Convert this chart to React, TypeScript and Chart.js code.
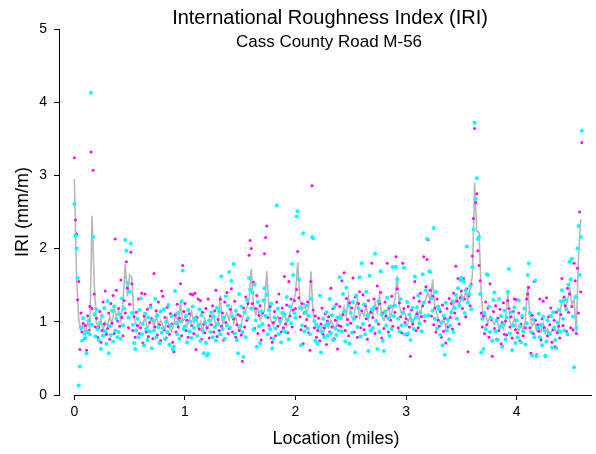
import React, { useEffect, useRef } from "react";
import { Chart, registerables } from "chart.js";

Chart.register(...registerables);

// ---- Data -------------------------------------------------------------
const TITLE = "International Roughness Index (IRI)";
const SUBTITLE = "Cass County Road M-56";
const X_LABEL = "Location (miles)";
const Y_LABEL = "IRI (mm/m)";
const X_TICKS = [0, 1, 2, 3, 4];
const Y_TICKS = [0, 1, 2, 3, 4, 5];

// sampling interval of the profile readings (miles)
const SAMPLE_STEP = 0.01;
const AVG_STEP = 0.02;

// magenta wheel-path IRI (mm/m), one reading per SAMPLE_STEP from 0 mi
const IRI_MAGENTA = [
  3.24, 2.39, 2.20, 1.30, 1.55, 0.62, 1.12, 0.86, 0.98, 0.77,
  0.95, 0.61, 1.08, 0.88, 1.21, 3.32, 1.18, 3.07, 1.38, 0.93,
  1.05, 0.79, 0.92, 1.14, 0.72, 0.88, 1.27, 0.97, 1.42, 0.83,
  0.91, 1.12, 0.76, 1.25, 0.98, 1.36, 0.84, 2.13, 1.43, 1.01,
  1.18, 0.94, 1.57, 1.06, 0.81, 1.29, 1.12, 1.82, 1.46, 0.92,
  1.24, 1.95, 1.52, 0.88, 1.07, 0.79, 1.13, 0.95, 1.31, 0.84,
  0.92, 1.39, 0.71, 1.08, 1.38, 0.86, 1.17, 0.80, 0.99, 1.23,
  1.04, 0.77, 1.66, 0.93, 1.15, 0.82, 1.27, 0.96, 0.74, 1.42,
  1.35, 0.89, 1.06, 0.78, 1.20, 0.94, 0.83, 1.11, 0.97, 0.72,
  0.59, 1.09, 0.86, 1.24, 0.93, 1.05, 1.52, 0.81, 1.77, 1.14,
  1.25, 0.88, 1.02, 0.79, 1.11, 1.38, 0.95, 1.37, 0.84, 1.39,
  0.62, 1.06, 1.31, 0.90, 1.29, 0.76, 1.13, 0.97, 0.85, 1.18,
  0.92, 1.31, 0.78, 1.08, 0.96, 1.22, 0.86, 1.15, 1.43, 0.80,
  1.03, 0.88, 1.31, 0.94, 1.12, 0.75, 1.27, 0.99, 1.40, 0.84,
  0.91, 1.17, 1.45, 0.86, 1.04, 1.28, 0.79, 0.96, 1.10, 0.88,
  1.08, 0.82, 0.46, 1.19, 0.93, 1.34, 1.02, 1.25, 1.91, 2.11,
  2.00, 1.25, 1.54, 0.91, 1.18, 1.36, 0.84, 1.09, 1.22, 0.75,
  1.12, 0.88, 1.93, 2.15, 2.31, 1.06, 0.95, 1.21, 0.78, 0.72,
  0.99, 1.14, 0.81, 1.27, 0.94, 1.38, 1.05, 0.86, 1.19, 0.92,
  1.62, 0.97, 1.23, 0.85, 1.55, 1.08, 1.31, 0.93, 1.16, 1.29,
  1.18, 1.44, 1.96, 1.33, 1.07, 0.89, 1.25, 0.70, 1.12, 0.94,
  1.03, 1.27, 0.85, 0.61, 1.55, 2.86, 1.16, 0.92, 1.08, 0.79,
  0.88, 1.05, 0.74, 0.97, 1.19, 0.83, 0.92, 1.11, 0.69, 1.01,
  1.07, 0.86, 1.46, 0.93, 1.18, 0.77, 1.02, 1.24, 0.63, 0.95,
  1.21, 0.94, 1.56, 1.10, 1.67, 0.88, 1.32, 1.03, 0.81, 1.26,
  0.98, 1.19, 1.60, 0.86, 1.34, 1.07, 0.79, 1.25, 1.41, 0.92,
  1.15, 1.37, 0.89, 1.22, 1.04, 0.76, 1.29, 0.95, 1.13, 1.80,
  1.06, 1.31, 0.84, 1.18, 1.49, 0.97, 1.25, 1.40, 0.78, 1.12,
  0.91, 1.27, 1.08, 1.80, 0.86, 1.19, 1.02, 1.35, 0.94, 1.22,
  1.13, 1.89, 1.45, 0.92, 1.26, 1.07, 0.85, 1.80, 1.18, 0.99,
  1.04, 0.82, 1.21, 0.93, 0.53, 1.16, 0.97, 1.33, 1.55, 0.88,
  1.11, 0.92, 1.28, 1.39, 1.07, 1.22, 1.89, 1.01, 1.48, 1.85,
  2.12, 1.27, 1.43, 1.08, 1.35, 0.96, 1.19, 0.86, 1.31, 1.02,
  0.94, 1.14, 0.79, 1.23, 0.87, 1.05, 0.71, 1.18, 0.93, 1.32,
  1.06, 1.25, 0.90, 1.39, 1.12, 1.76, 1.28, 1.59, 0.97, 1.33,
  1.42, 1.18, 1.59, 1.31, 1.07, 1.45, 0.59, 1.36, 1.22, 1.51,
  1.90, 2.41, 3.64, 2.63, 2.75, 1.97, 1.77, 1.56, 1.12, 0.93,
  1.08, 0.84, 1.27, 0.96, 1.19, 0.79, 1.52, 1.03, 0.53, 1.14,
  0.91, 1.22, 0.76, 1.05, 0.88, 1.17, 0.70, 0.99, 1.26, 0.83,
  1.01, 0.82, 1.29, 1.18, 0.93, 1.07, 0.78, 1.14, 1.31, 0.89,
  1.30, 0.85, 1.12, 0.74, 0.97, 1.06, 0.81, 1.19, 0.92, 1.31,
  1.38, 1.47, 0.92, 0.57, 1.09, 0.84, 1.55, 1.02, 0.55, 0.96,
  0.87, 1.31, 0.75, 1.04, 1.28, 0.92, 0.53, 1.33, 0.81, 1.07,
  0.96, 1.19, 0.72, 0.89, 1.02, 0.66, 1.13, 0.85, 0.94, 0.78,
  1.10, 1.59, 0.95, 1.34, 1.22, 0.87, 1.46, 1.13, 1.38, 0.92,
  1.21, 0.89, 1.80, 1.56, 0.84, 1.73, 1.12, 2.50, 1.41, 3.45,
];

// cyan wheel-path IRI (mm/m), one reading per SAMPLE_STEP from 0 mi
const IRI_CYAN = [
  2.61, 2.18, 2.00, 1.60, 0.13, 0.39, 0.92, 0.74, 1.05, 0.84,
  0.78, 0.57, 0.86, 1.02, 0.83, 4.13, 0.96, 2.16, 1.10, 0.80,
  1.17, 0.90, 0.75, 0.98, 0.63, 1.08, 0.81, 1.19, 0.87, 0.70,
  1.28, 0.57, 0.94, 0.82, 1.15, 0.73, 1.21, 0.88, 1.04, 0.79,
  0.86, 1.10, 0.77, 1.32, 0.95, 1.18, 2.12, 1.97, 1.53, 1.06,
  1.41, 2.07, 1.12, 0.96, 0.71, 0.63, 0.88, 1.04, 0.79, 1.16,
  1.32, 0.83, 0.97, 0.68, 1.11, 0.90, 0.75, 1.06, 0.87, 1.20,
  0.64, 1.02, 0.88, 1.31, 0.79, 1.09, 0.93, 0.71, 1.14, 0.85,
  0.91, 1.17, 0.76, 1.00, 0.86, 1.23, 0.69, 0.95, 1.08, 0.62,
  0.66, 1.42, 0.98, 0.83, 1.12, 0.77, 1.01, 1.28, 1.70, 0.90,
  0.94, 1.08, 0.72, 1.16, 0.87, 1.00, 0.78, 1.21, 0.92, 1.05,
  1.03, 0.81, 0.95, 1.17, 0.74, 1.09, 0.88, 0.57, 0.99, 0.71,
  0.54, 0.56, 1.02, 0.86, 1.13, 0.79, 1.07, 0.93, 0.74, 1.19,
  0.97, 1.14, 0.83, 1.62, 0.90, 1.06, 0.77, 1.35, 0.95, 1.22,
  1.68, 0.92, 1.56, 1.07, 1.79, 0.84, 1.15, 0.75, 0.57, 1.38,
  0.94, 1.21, 0.86, 0.52, 1.13, 0.79, 1.30, 1.05, 1.60, 1.44,
  1.18, 1.40, 0.89, 1.51, 1.02, 0.66, 1.27, 0.94, 0.71, 1.14,
  0.97, 1.29, 1.46, 1.08, 1.37, 0.83, 1.16, 0.90, 1.25, 0.64,
  0.77, 1.06, 0.91, 2.59, 1.18, 0.83, 1.01, 0.72, 1.12, 0.88,
  1.10, 0.86, 1.34, 1.03, 0.76, 1.21, 0.98, 1.79, 1.64, 1.12,
  1.06, 2.44, 2.51, 1.58, 1.19, 0.68, 0.95, 2.21, 0.87, 1.13,
  1.22, 0.91, 1.08, 0.83, 1.32, 2.16, 2.14, 1.01, 0.74, 0.96,
  0.70, 0.93, 1.36, 0.58, 0.86, 1.04, 0.79, 0.95, 1.13, 0.81,
  0.98, 1.31, 0.84, 1.09, 0.75, 1.20, 0.91, 0.82, 1.06, 0.88,
  1.61, 1.05, 0.87, 1.38, 1.14, 0.73, 1.47, 0.96, 1.22, 0.70,
  1.12, 0.85, 1.27, 1.04, 0.58, 1.36, 0.93, 1.18, 1.61, 0.80,
  1.80, 0.97, 1.24, 0.83, 1.41, 1.09, 0.60, 1.63, 0.88, 1.17,
  0.92, 1.20, 1.93, 1.01, 0.63, 1.28, 0.86, 1.69, 1.10, 0.74,
  0.60, 1.14, 0.95, 1.33, 1.05, 0.81, 1.21, 0.90, 1.75, 1.08,
  1.22, 1.75, 1.58, 1.04, 0.87, 1.31, 0.95, 1.12, 1.74, 0.83,
  0.96, 1.27, 0.84, 1.10, 0.75, 1.02, 1.19, 0.90, 1.62, 1.06,
  1.20, 1.36, 0.98, 1.13, 0.87, 1.65, 1.26, 1.08, 1.43, 2.13,
  1.09, 1.69, 1.68, 1.32, 1.15, 2.28, 1.04, 1.41, 0.91, 1.21,
  1.17, 0.82, 0.99, 0.68, 1.08, 0.55, 1.26, 0.88, 1.03, 0.76,
  0.95, 1.13, 1.28, 0.86, 1.19, 1.37, 1.04, 1.46, 1.22, 1.57,
  1.60, 1.31, 1.55, 1.12, 1.43, 2.03, 1.26, 1.38, 1.49, 1.17,
  1.75, 2.26, 3.72, 2.68, 2.96, 2.13, 2.16, 1.38, 0.58, 1.04,
  0.63, 1.12, 0.90, 1.65, 1.64, 1.21, 0.86, 1.05, 0.74, 1.30,
  1.40, 0.87, 1.02, 0.75, 1.31, 0.93, 1.08, 0.66, 0.97, 1.15,
  0.76, 1.06, 1.41, 1.72, 0.84, 1.13, 0.61, 0.95, 1.20, 0.71,
  1.02, 0.79, 1.29, 0.94, 0.72, 1.08, 0.87, 1.18, 0.69, 0.98,
  1.64, 1.80, 1.12, 0.86, 0.54, 1.03, 0.79, 1.56, 0.53, 0.92,
  1.11, 0.79, 0.96, 0.68, 1.07, 0.88, 0.54, 0.73, 1.02, 0.85,
  0.83, 1.08, 0.65, 1.13, 0.92, 0.75, 0.64, 0.99, 1.16, 0.87,
  1.28, 1.43, 1.04, 0.88, 1.30, 1.17, 0.83, 1.51, 1.82, 1.58,
  1.86, 1.07, 0.38, 1.34, 0.92, 2.00, 2.31, 1.64, 2.16, 3.61,
];

// gray running IRI (mm/m), one value per AVG_STEP from 0 mi
const IRI_AVERAGE = [
  2.95, 1.60, 1.02, 0.88, 0.96, 0.84, 1.00, 0.90, 2.45, 1.50,
  0.98, 0.92, 1.04, 0.88, 1.00, 0.94, 1.08, 0.96, 1.20, 1.06,
  1.15, 1.02, 1.26, 1.79, 1.35, 1.64, 1.60, 1.04, 0.96, 0.92,
  1.00, 0.96, 1.08, 0.90, 0.98, 1.05, 0.92, 1.10, 0.94, 1.02,
  0.96, 0.90, 1.04, 0.92, 0.86, 0.98, 1.12, 0.94, 1.28, 1.00,
  1.06, 0.94, 1.02, 1.14, 0.98, 1.08, 0.92, 1.00, 0.86, 1.04,
  0.90, 0.96, 1.02, 1.10, 0.94, 1.00, 1.36, 0.96, 1.06, 1.12,
  1.02, 1.18, 0.98, 1.08, 0.92, 0.88, 1.05, 1.12, 1.20, 1.30,
  1.72, 1.22, 1.10, 1.18, 1.02, 1.08, 1.16, 1.69, 1.20, 1.00,
  0.94, 1.02, 1.08, 0.96, 1.04, 1.12, 0.98, 1.06, 1.18, 1.28,
  1.38, 1.81, 1.30, 1.16, 1.24, 1.10, 1.20, 1.69, 1.08, 0.96,
  0.90, 0.86, 0.94, 0.88, 0.98, 0.92, 1.02, 0.96, 0.90, 1.00,
  1.10, 1.04, 1.20, 1.08, 1.35, 1.12, 1.02, 1.18, 1.30, 1.06,
  1.14, 1.08, 1.22, 1.04, 1.16, 1.10, 1.26, 1.12, 1.37, 1.08,
  1.02, 1.14, 1.20, 1.06, 1.18, 1.30, 1.63, 1.22, 1.10, 1.16,
  1.06, 1.00, 1.10, 0.96, 1.08, 1.14, 1.02, 1.18, 1.24, 1.32,
  1.40, 1.28, 1.58, 1.20, 1.10, 1.02, 0.96, 1.04, 0.92, 1.00,
  1.08, 1.18, 1.26, 1.34, 1.22, 1.38, 1.30, 1.42, 1.28, 1.46,
  1.62, 2.90, 2.24, 2.22, 1.40, 1.04, 1.10, 0.98, 1.08, 1.02,
  0.96, 1.04, 0.92, 0.98, 0.90, 1.02, 1.40, 1.00, 0.94, 1.06,
  0.92, 0.88, 0.96, 0.90, 1.02, 1.50, 1.10, 0.94, 1.00, 0.88,
  0.92, 0.86, 0.98, 0.84, 0.90, 0.82, 0.88, 0.94, 0.86, 0.92,
  1.20, 1.32, 1.18, 1.28, 1.45, 1.24, 1.30, 0.86, 1.90, 2.40,
];

// ---- Layout / style ---------------------------------------------------
const W = 596;
const H = 454;
const FONT = "'Liberation Sans', Arial, Helvetica, sans-serif";
const X_MIN = -0.139;
const X_MAX = 4.682;

const toPoints = (vals: number[], step: number) =>
  vals.map((v, i) => ({ x: Math.round(i * step * 1000) / 1000, y: v }));

const decorations = {
  id: "decorations",
  afterDraw(chart: any) {
    const { ctx, chartArea, scales } = chart;
    const xs = scales.x;
    ctx.save();
    // detached x axis line starting at 0
    const y0 = Math.round(chartArea.bottom) + 0.5;
    ctx.strokeStyle = "#000";
    ctx.lineWidth = 1;
    ctx.beginPath();
    ctx.moveTo(Math.round(xs.getPixelForValue(0)), y0);
    ctx.lineTo(chartArea.right, y0);
    ctx.stroke();

    ctx.fillStyle = "#000";
    ctx.textAlign = "center";
    ctx.textBaseline = "middle";
    ctx.font = `20px ${FONT}`;
    ctx.fillText(TITLE, 330, 18);
    ctx.font = `17px ${FONT}`;
    ctx.fillText(SUBTITLE, 329, 42);
    ctx.font = `18px ${FONT}`;
    ctx.fillText(X_LABEL, 336, 439);
    ctx.translate(23, 212);
    ctx.rotate(-Math.PI / 2);
    ctx.fillText(Y_LABEL, 0, 0);
    ctx.restore();
  },
};

export default function App() {
  const ref = useRef<HTMLCanvasElement | null>(null);

  useEffect(() => {
    if (!ref.current) return;
    const chart = new Chart(ref.current, {
      type: "scatter",
      data: {
        datasets: [
          {
            label: "Cyan",
            data: toPoints(IRI_CYAN, SAMPLE_STEP),
            backgroundColor: "#00FFFF",
            borderWidth: 0,
            pointRadius: 2,
            order: 0,
          },
          {
            label: "Magenta",
            data: toPoints(IRI_MAGENTA, SAMPLE_STEP),
            backgroundColor: "#FF00FF",
            borderWidth: 0,
            pointRadius: 1.5,
            order: 1,
          },
          {
            label: "Average",
            type: "line",
            data: toPoints(IRI_AVERAGE, AVG_STEP),
            borderColor: "#B8B8B8",
            borderWidth: 1.6,
            pointRadius: 0,
            tension: 0,
            fill: false,
            order: 2,
          },
        ] as any,
      },
      options: {
        animation: false,
        responsive: false,
        events: [],
        layout: { padding: { top: 29, left: 0, right: 0, bottom: 0 } },
        plugins: {
          legend: { display: false },
          tooltip: { enabled: false },
          title: { display: false },
        },
        scales: {
          x: {
            type: "linear",
            min: X_MIN,
            max: X_MAX,
            afterBuildTicks: (s: any) => {
              s.ticks = X_TICKS.map((v) => ({ value: v }));
            },
            afterFit: (s: any) => {
              s.height = H - 395;
            },
            grid: {
              drawOnChartArea: false,
              drawTicks: true,
              tickLength: 5,
              color: "#000",
              lineWidth: 1,
            },
            border: { display: false },
            ticks: {
              color: "#000",
              font: { family: FONT, size: 14 },
              padding: 4,
              maxRotation: 0,
              callback: (v: any) => String(v),
            },
          },
          y: {
            type: "linear",
            min: 0,
            max: 5,
            afterBuildTicks: (s: any) => {
              s.ticks = Y_TICKS.map((v) => ({ value: v }));
            },
            afterFit: (s: any) => {
              s.width = 59;
            },
            grid: {
              drawOnChartArea: false,
              drawTicks: true,
              tickLength: 5,
              color: "#000",
              lineWidth: 1,
            },
            border: { display: true, color: "#000", width: 1 },
            ticks: {
              color: "#000",
              font: { family: FONT, size: 14 },
              padding: 7,
              callback: (v: any) => String(v),
            },
          },
        },
      } as any,
      plugins: [decorations],
    });
    return () => chart.destroy();
  }, []);

  return (
    <div
      style={{
        position: "fixed",
        left: 0,
        top: 0,
        width: W,
        height: H,
        background: "#fff",
      }}
    >
      <canvas ref={ref} width={W} height={H} style={{ width: W, height: H }} />
    </div>
  );
}
